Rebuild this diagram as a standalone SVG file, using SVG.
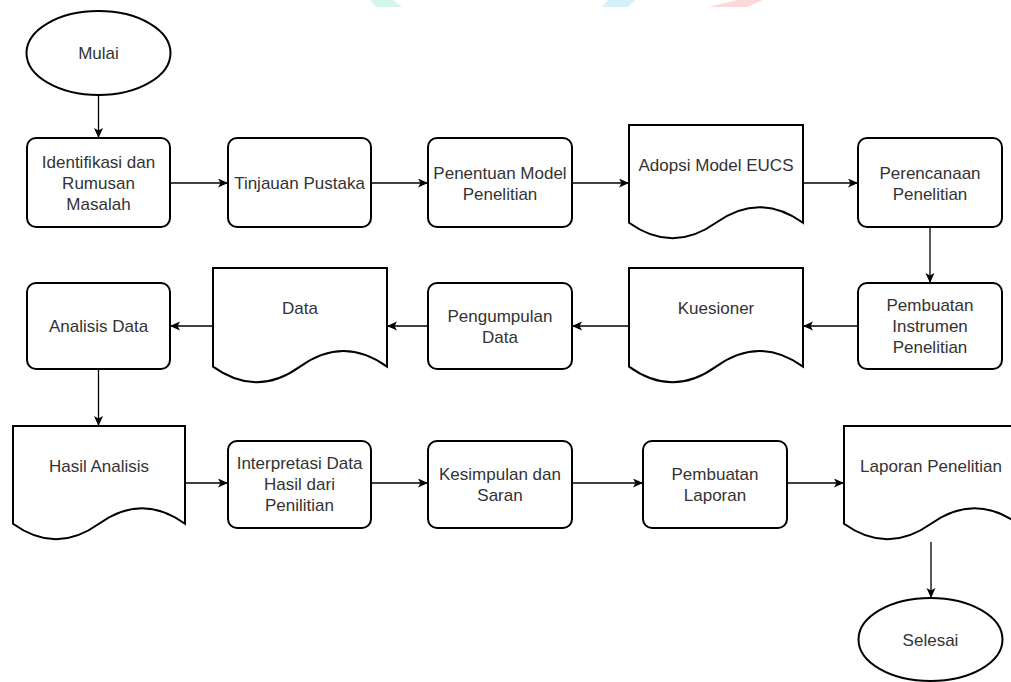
<svg xmlns="http://www.w3.org/2000/svg" width="1011" height="682" viewBox="0 0 1011 682">
<style>
.s{fill:#fff;stroke:#000;stroke-width:2}
.t{font-family:"Liberation Sans",Arial,sans-serif;font-size:17px;fill:#333;text-anchor:middle}
.c{fill:none;stroke:#000;stroke-width:1.3;marker-end:url(#a)}
</style>
<defs>
<marker id="a" markerUnits="userSpaceOnUse" markerWidth="11" markerHeight="10" refX="10" refY="4.5" orient="auto">
<path d="M0,0 L10,4.5 L0,9 L2.5,4.5 Z" fill="#000"/>
</marker>
</defs>
<rect width="1011" height="682" fill="#fff"/>
<g id="watermark">
<polygon points="370,0 393,0 402,7 377,7" fill="#d4f5ea"/>
<polygon points="608,0 635,0 628,7 602,7" fill="#d4f1fb"/>
<polygon points="737,0 763,0 747,7 708,7" fill="#fdd8d8"/>
</g>
<g id="connectors">
<line class="c" x1="98.5" y1="96" x2="98.5" y2="138"/>
<line class="c" x1="170" y1="183" x2="228" y2="183"/>
<line class="c" x1="371" y1="183" x2="428" y2="183"/>
<line class="c" x1="572" y1="183" x2="629" y2="183"/>
<line class="c" x1="803" y1="183" x2="858" y2="183"/>
<line class="c" x1="930" y1="227" x2="930" y2="283"/>
<line class="c" x1="858" y1="326" x2="803" y2="326"/>
<line class="c" x1="629" y1="326" x2="572" y2="326"/>
<line class="c" x1="428" y1="326" x2="387" y2="326"/>
<line class="c" x1="213" y1="326" x2="170" y2="326"/>
<line class="c" x1="98.5" y1="369" x2="98.5" y2="426"/>
<line class="c" x1="185" y1="483" x2="228" y2="483"/>
<line class="c" x1="371" y1="483" x2="428" y2="483"/>
<line class="c" x1="572" y1="483" x2="643" y2="483"/>
<line class="c" x1="787" y1="483" x2="844" y2="483"/>
<line class="c" x1="931" y1="542" x2="931" y2="598"/>
</g>
<g id="mulai">
<ellipse class="s" cx="98.5" cy="53" rx="72" ry="42"/>
<text class="t" x="98.5" y="59">Mulai</text>
</g>
<g id="identifikasi">
<rect class="s" x="27" y="138" width="143" height="89" rx="9"/>
<text class="t" x="98.5" y="168">Identifikasi dan</text>
<text class="t" x="98.5" y="189">Rumusan</text>
<text class="t" x="98.5" y="210">Masalah</text>
</g>
<g id="tinjauan">
<rect class="s" x="228" y="138" width="143" height="89" rx="9"/>
<text class="t" x="299.5" y="189">Tinjauan Pustaka</text>
</g>
<g id="penentuan">
<rect class="s" x="428" y="138" width="144" height="89" rx="9"/>
<text class="t" x="500" y="178.5">Penentuan Model</text>
<text class="t" x="500" y="199.5">Penelitian</text>
</g>
<g id="adopsi">
<path class="s" d="M629,125 H803 V222.75 Q759.5,191.7 716,222.75 Q672.5,253.8 629,222.75 Z"/>
<text class="t" x="716" y="171">Adopsi Model EUCS</text>
</g>
<g id="perencanaan">
<rect class="s" x="858" y="138" width="144" height="89" rx="9"/>
<text class="t" x="930" y="178.5">Perencanaan</text>
<text class="t" x="930" y="199.5">Penelitian</text>
</g>
<g id="instrumen">
<rect class="s" x="858" y="283" width="144" height="86" rx="9"/>
<text class="t" x="930" y="311">Pembuatan</text>
<text class="t" x="930" y="332">Instrumen</text>
<text class="t" x="930" y="353">Penelitian</text>
</g>
<g id="kuesioner">
<path class="s" d="M629,268 H803 V366.6 Q759.5,335.3 716,366.6 Q672.5,397.9 629,366.6 Z"/>
<text class="t" x="716" y="314">Kuesioner</text>
</g>
<g id="pengumpulan">
<rect class="s" x="428" y="283" width="144" height="86" rx="9"/>
<text class="t" x="500" y="321.5">Pengumpulan</text>
<text class="t" x="500" y="342.5">Data</text>
</g>
<g id="data">
<path class="s" d="M213,268 H387 V366.6 Q343.5,335.3 300,366.6 Q256.5,397.9 213,366.6 Z"/>
<text class="t" x="300" y="314">Data</text>
</g>
<g id="analisis">
<rect class="s" x="27" y="283" width="143" height="86" rx="9"/>
<text class="t" x="98.5" y="332">Analisis Data</text>
</g>
<g id="hasil">
<path class="s" d="M13,426 H185 V523.75 Q142,492.7 99,523.75 Q56,554.8 13,523.75 Z"/>
<text class="t" x="99" y="472">Hasil Analisis</text>
</g>
<g id="interpretasi">
<rect class="s" x="228" y="441" width="143" height="87" rx="9"/>
<text class="t" x="299.5" y="469">Interpretasi Data</text>
<text class="t" x="299.5" y="490">Hasil dari</text>
<text class="t" x="299.5" y="511">Penilitian</text>
</g>
<g id="kesimpulan">
<rect class="s" x="428" y="441" width="144" height="87" rx="9"/>
<text class="t" x="500" y="479.5">Kesimpulan dan</text>
<text class="t" x="500" y="500.5">Saran</text>
</g>
<g id="pembuatan-laporan">
<rect class="s" x="643" y="441" width="144" height="87" rx="9"/>
<text class="t" x="715" y="479.5">Pembuatan</text>
<text class="t" x="715" y="500.5">Laporan</text>
</g>
<g id="laporan">
<path class="s" d="M844,426 H1018 V523.75 Q974.5,492.7 931,523.75 Q887.5,554.8 844,523.75 Z"/>
<text class="t" x="931" y="472">Laporan Penelitian</text>
</g>
<g id="selesai">
<ellipse class="s" cx="930.5" cy="639.5" rx="72" ry="41.5"/>
<text class="t" x="930.5" y="645.5">Selesai</text>
</g>
</svg>
